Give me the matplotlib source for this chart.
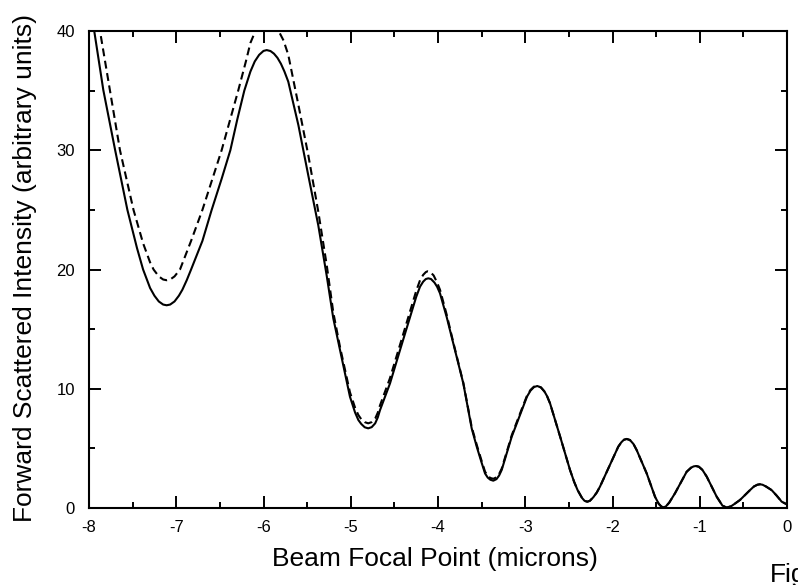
import matplotlib
matplotlib.use('Agg')
import matplotlib.pyplot as plt
from matplotlib.ticker import MultipleLocator

plt.rcParams['font.family'] = ['Liberation Sans', 'DejaVu Sans']

# solid curve (x in microns, intensity)
solid = [(-8.00, 42.6), (-7.94, 40.0), (-7.836, 35.05), (-7.70, 30.0), (-7.56, 25.0),
         (-7.45, 21.8), (-7.38, 20.0), (-7.30, 18.45), (-7.25, 17.8), (-7.20, 17.32),
         (-7.15, 17.06), (-7.11, 17.0), (-7.07, 17.06), (-7.02, 17.32), (-6.97, 17.8),
         (-6.93, 18.3), (-6.88, 19.1), (-6.83, 20.0), (-6.70, 22.4), (-6.594, 25.0),
         (-6.48, 27.6), (-6.38, 30.0), (-6.30, 32.6), (-6.22, 35.0), (-6.15, 36.6),
         (-6.10, 37.45), (-6.05, 38.0), (-6.00, 38.33), (-5.963, 38.4), (-5.92, 38.32),
         (-5.88, 38.1), (-5.84, 37.75), (-5.80, 37.25), (-5.76, 36.6), (-5.716, 35.75),
         (-5.60, 32.1), (-5.487, 27.9), (-5.372, 23.7), (-5.276, 19.5), (-5.20, 15.9),
         (-5.123, 13.25), (-5.009, 9.33), (-4.95, 8.0), (-4.913, 7.38), (-4.88, 7.05),
         (-4.84, 6.77), (-4.80, 6.68), (-4.76, 6.78), (-4.72, 7.1), (-4.69, 7.6),
         (-4.665, 8.2), (-4.55, 10.45), (-4.435, 13.25), (-4.32, 16.0), (-4.25, 17.7),
         (-4.206, 18.56), (-4.17, 18.98), (-4.14, 19.2), (-4.111, 19.26), (-4.08, 19.2),
         (-4.04, 18.9), (-4.01, 18.55), (-3.977, 18.0), (-3.90, 16.0), (-3.825, 13.8),
         (-3.71, 10.45), (-3.614, 6.68), (-3.556, 5.14), (-3.50, 3.8), (-3.461, 2.9),
         (-3.43, 2.55), (-3.40, 2.37), (-3.366, 2.29), (-3.33, 2.42), (-3.30, 2.72),
         (-3.27, 3.19), (-3.155, 5.98), (-3.04, 8.2), (-2.98, 9.34), (-2.94, 9.84),
         (-2.90, 10.14), (-2.862, 10.23), (-2.82, 10.11), (-2.78, 9.77), (-2.75, 9.38),
         (-2.716, 8.78), (-2.60, 5.98), (-2.487, 3.19), (-2.44, 2.2), (-2.40, 1.5),
         (-2.35, 0.85), (-2.32, 0.6), (-2.289, 0.53), (-2.26, 0.6), (-2.22, 0.9),
         (-2.18, 1.3), (-2.143, 1.8), (-2.03, 3.6), (-1.934, 5.14), (-1.90, 5.5),
         (-1.87, 5.72), (-1.837, 5.79), (-1.80, 5.7), (-1.76, 5.37), (-1.723, 4.86),
         (-1.608, 2.9), (-1.513, 0.95), (-1.47, 0.35), (-1.44, 0.12), (-1.418, 0.06),
         (-1.39, 0.12), (-1.35, 0.45), (-1.284, 1.23), (-1.15, 3.04), (-1.10, 3.38),
         (-1.07, 3.49), (-1.043, 3.52), (-1.01, 3.46), (-0.97, 3.2), (-0.92, 2.63),
         (-0.806, 0.95), (-0.74, 0.2), (-0.691, 0.03), (-0.64, 0.15), (-0.60, 0.35),
         (-0.539, 0.67), (-0.424, 1.5), (-0.38, 1.8), (-0.34, 1.95), (-0.31, 1.99),
         (-0.28, 1.95), (-0.24, 1.8), (-0.176, 1.5), (-0.12, 1.05), (-0.061, 0.53),
         (0.0, 0.3)]

# dashed curve up to x = -2.9; beyond that it lies on the solid one
dashed_head = [(-8.00, 46.5), (-7.874, 40.0), (-7.76, 35.0), (-7.645, 30.0), (-7.49, 25.0),
               (-7.38, 22.2), (-7.30, 20.6), (-7.26, 20.0), (-7.20, 19.42), (-7.15, 19.16),
               (-7.11, 19.1), (-7.07, 19.16), (-7.02, 19.42), (-6.957, 20.0), (-6.83, 22.4),
               (-6.70, 25.0), (-6.48, 30.0), (-6.29, 35.0), (-6.20, 37.5), (-6.15, 39.0),
               (-6.09, 40.05), (-6.03, 40.7), (-5.96, 41.0), (-5.89, 40.7), (-5.83, 40.05),
               (-5.77, 39.2), (-5.716, 38.0), (-5.60, 33.8), (-5.487, 29.6), (-5.372, 24.85),
               (-5.276, 20.4), (-5.20, 16.4), (-5.123, 13.5), (-5.009, 9.7), (-4.95, 8.4),
               (-4.913, 7.8), (-4.88, 7.45), (-4.84, 7.2), (-4.80, 7.1), (-4.76, 7.2),
               (-4.72, 7.5), (-4.69, 8.0), (-4.665, 8.6), (-4.55, 10.9), (-4.435, 13.7),
               (-4.32, 16.5), (-4.25, 18.2), (-4.206, 19.1), (-4.17, 19.55), (-4.14, 19.78),
               (-4.12, 19.85), (-4.09, 19.8), (-4.05, 19.5), (-4.01, 18.9), (-3.977, 18.3),
               (-3.90, 16.2), (-3.825, 13.9), (-3.71, 10.5), (-3.614, 6.8), (-3.556, 5.3),
               (-3.50, 3.95), (-3.461, 3.05), (-3.43, 2.7), (-3.40, 2.52), (-3.366, 2.45),
               (-3.33, 2.57), (-3.30, 2.85), (-3.27, 3.3), (-3.155, 6.1), (-3.04, 8.3),
               (-2.98, 9.42), (-2.94, 9.9), (-2.90, 10.18)]
dashed = dashed_head + [p for p in solid if p[0] > -2.88]

x_ticks = [-8, -7, -6, -5, -4, -3, -2, -1, 0]
y_ticks = [0, 10, 20, 30, 40]

solid_x, solid_y = zip(*solid)
dashed_x, dashed_y = zip(*dashed)

fig = plt.figure(figsize=(7.98, 5.85), dpi=100)
ax = fig.add_axes([89/798, 77/585, 698/798, 477/585])

ax.plot(solid_x, solid_y, color='black', lw=1.5, solid_joinstyle='round')
ax.plot(dashed_x, dashed_y, color='black', lw=1.5, dashes=(3.8, 2.2))

ax.set_xlim(-8, 0)
ax.set_ylim(0, 40)
ax.set_xticks(x_ticks)
ax.set_yticks(y_ticks)
ax.set_xticklabels([str(t) for t in x_ticks])
ax.xaxis.set_minor_locator(MultipleLocator(0.5))
ax.yaxis.set_minor_locator(MultipleLocator(5))

for s in ax.spines.values():
    s.set_linewidth(1.5)
ax.tick_params(which='both', direction='in', top=True, right=True, width=1.4,
               labelsize=12)
ax.tick_params(axis='x', pad=8.5)
ax.tick_params(axis='y', pad=10)
ax.tick_params(which='major', length=8.4)
ax.tick_params(which='minor', length=4.1)

# axis titles placed as in the original; "Fig" is cut by the page edge there too
fig.text(435/798, 1 - 566/585, 'Beam Focal Point (microns)', fontsize=19,
         ha='center', va='baseline')
fig.text(25/798, 1 - 268/585, 'Forward Scattered Intensity (arbitrary units)',
         fontsize=19, rotation=90, ha='center', va='center')
fig.text(770/798, 1 - 582/585, 'Fig', fontsize=19, ha='left', va='baseline')

fig.savefig('out.png', dpi=100)
